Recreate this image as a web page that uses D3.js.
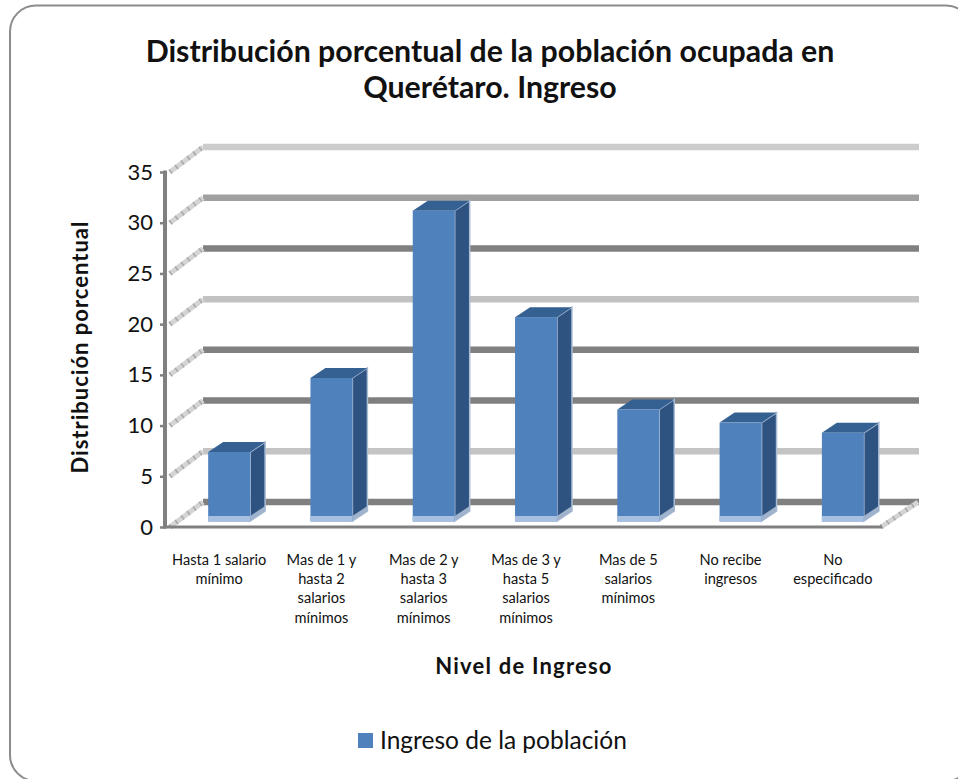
<!DOCTYPE html>
<html>
<head>
<meta charset="utf-8">
<script src="https://cdn.jsdelivr.net/npm/d3@7"></script>
<style>
    html, body { margin: 0; padding: 0; background: #fff; overflow: hidden; }
    svg { display: block; }
    text { font-family: Lato, "Open Sans", sans-serif; fill: #111; }
</style>
</head>
<body>
<div id="chart"></div>
<script>
const categories = [
    "Hasta 1 salario mínimo",
    "Mas de 1 y hasta 2 salarios mínimos",
    "Mas de 2 y hasta 3 salarios mínimos",
    "Mas de 3 y hasta 5 salarios mínimos",
    "Mas de 5 salarios mínimos",
    "No recibe ingresos",
    "No especificado"
];
const categoryLines = [
    ["Hasta 1 salario", "mínimo"],
    ["Mas de 1 y", "hasta 2", "salarios", "mínimos"],
    ["Mas de 2 y", "hasta 3", "salarios", "mínimos"],
    ["Mas de 3 y", "hasta 5", "salarios", "mínimos"],
    ["Mas de 5", "salarios", "mínimos"],
    ["No recibe", "ingresos"],
    ["No", "especificado"]
];
const values = [6.8, 14.1, 30.6, 20.1, 11.0, 9.7, 8.7];
const yTicks = [0, 5, 10, 15, 20, 25, 30, 35];
const titleLines = ["Distribución porcentual de la población ocupada en", "Querétaro. Ingreso"];
const yTitle = "Distribución porcentual";
const xTitle = "Nivel de Ingreso";
const seriesName = "Ingreso de la población";

const Config = {
    width: 958,
    height: 779,
    left: 168,
    right: 884,
    top: 172,
    bottom: 527,
    wallDx: 38,
    wallDy: -25,
    barDx: 15,
    barDy: -10,
    barShift: 10,
    barBaseY: -6,
    gridColor: {0: "#808080", 5: "#c4c4c4", 10: "#808080", 15: "#808080", 20: "#c2c2c2", 25: "#808080", 30: "#a0a0a0", 35: "#cccccc"}
};

const svg = d3.select("#chart").append("svg")
    .attr("width", Config.width)
    .attr("height", Config.height);

svg.append("defs").append("filter").attr("id", "soft")
    .append("feGaussianBlur").attr("stdDeviation", 0.6);

// chart frame
svg.append("rect")
    .attr("x", 10).attr("y", 5.5)
    .attr("width", 962).attr("height", 775.5)
    .attr("rx", 26).attr("ry", 26)
    .attr("fill", "#fff")
    .attr("stroke", "#8c8c8c")
    .attr("stroke-width", 2);

const x = d3.scaleBand()
    .domain(categories)
    .range([Config.left, Config.right])
    .paddingInner(0.59)
    .paddingOuter(0.295);

const y = d3.scaleLinear()
    .domain([0, 35])
    .range([Config.bottom, Config.top]);

const plot = svg.append("g").attr("filter", "url(#soft)");

// back wall grid lines
plot.append("g").selectAll("line")
    .data(yTicks)
    .enter().append("line")
    .attr("x1", Config.left - 3 + Config.wallDx)
    .attr("x2", Config.right + Config.wallDx - 3)
    .attr("y1", d => y(d) + Config.wallDy)
    .attr("y2", d => y(d) + Config.wallDy)
    .attr("stroke", d => Config.gridColor[d])
    .attr("stroke-width", 6.5);

// hatched side wall lines
function hatch(sel, x1, x2, y1, y2) {
    sel.append("line")
        .attr("x1", x1).attr("x2", x2)
        .attr("y1", y1).attr("y2", y2)
        .attr("stroke", "#d4d4d4")
        .attr("stroke-width", 5);
    sel.append("line")
        .attr("x1", x1).attr("x2", x2)
        .attr("y1", y1).attr("y2", y2)
        .attr("stroke", "#a8a8a8")
        .attr("stroke-width", 5)
        .attr("stroke-dasharray", "1.5 6");
}
const side = plot.append("g").selectAll("g")
    .data(yTicks)
    .enter().append("g");
hatch(side, Config.left + 2, Config.left - 3 + Config.wallDx, d => y(d), d => y(d) + Config.wallDy);

// floor edge on the right
hatch(plot.append("g"), Config.right - 3, Config.right - 4 + Config.wallDx, y(0), y(0) + Config.wallDy);

// bars
const bars = plot.append("g").selectAll("g")
    .data(categories.map((c, i) => ({name: c, value: values[i]})))
    .enter().append("g")
    .attr("transform", d => `translate(${x(d.name) + Config.barShift},${Config.barBaseY})`);

const barW = x.bandwidth();

// side face
bars.append("path")
    .attr("fill", "#2f5380")
    .attr("stroke", "#a9bcd6")
    .attr("stroke-width", 1.5)
    .attr("d", d => {
        const t = y(d.value), b = y(0);
        return `M${barW},${t}L${barW + Config.barDx},${t + Config.barDy}L${barW + Config.barDx},${b + Config.barDy}L${barW},${b}Z`;
    });
// light sliver at the bottom of the side face
bars.append("path")
    .attr("fill", "#9fb3cc")
    .attr("d", () => {
        const b = y(0);
        return `M${barW},${b}L${barW + Config.barDx},${b + Config.barDy}L${barW + Config.barDx},${b + Config.barDy - 5}L${barW},${b - 5}Z`;
    });
// top face
bars.append("path")
    .attr("fill", "#366092")
    .attr("d", d => {
        const t = y(d.value);
        return `M0,${t}L${Config.barDx},${t + Config.barDy}L${barW + Config.barDx},${t + Config.barDy}L${barW},${t}Z`;
    });
// front face
bars.append("rect")
    .attr("x", 0)
    .attr("y", d => y(d.value))
    .attr("width", barW)
    .attr("height", d => y(0) - y(d.value))
    .attr("fill", "#4f81bd");
// light strip at the bottom of the bar
bars.append("rect")
    .attr("x", 0)
    .attr("y", y(0) - 5)
    .attr("width", barW)
    .attr("height", 6)
    .attr("fill", "#a7c0e0");

// axes
const yAxis = d3.axisLeft(y)
    .tickValues(yTicks)
    .tickSize(5)
    .tickPadding(7);
const yG = svg.append("g")
    .attr("transform", `translate(${Config.left - 3},0)`)
    .call(yAxis);
yG.selectAll("path").remove();
yG.append("line")
    .attr("y1", y(35) - 1.5).attr("y2", y(0) + 1.5)
    .attr("stroke", "#808080").attr("stroke-width", 4);
yG.selectAll(".tick line").attr("stroke", "#808080").attr("stroke-width", 2.5);
yG.selectAll(".tick text").attr("font-size", 22).style("fill", "#111");

const xAxis = d3.axisBottom(x.copy().padding(0)).tickSize(0).tickFormat("");
const xG = svg.append("g")
    .attr("transform", `translate(0,${y(0)})`)
    .call(xAxis);
xG.selectAll("path").remove();
xG.append("line")
    .attr("x1", Config.left - 5).attr("x2", Config.right - 2)
    .attr("stroke", "#808080").attr("stroke-width", 3);

xG.selectAll(".tick text")
    .attr("y", null).attr("dy", null)
    .attr("font-size", 14.6)
    .style("fill", "#111")
    .each(function (d, i) {
        d3.select(this).selectAll("tspan")
            .data(categoryLines[i])
            .enter().append("tspan")
            .attr("x", 0)
            .attr("y", (l, j) => 38 + j * 19.2)
            .text(l => l);
    });

// titles
svg.append("g").selectAll("text")
    .data(titleLines)
    .enter().append("text")
    .attr("x", 490)
    .attr("y", (d, i) => 62 + i * 36)
    .attr("text-anchor", "middle")
    .attr("font-size", 30.3)
    .attr("font-weight", 700)
    .text(d => d);

svg.append("text")
    .attr("transform", "translate(88,347) rotate(-90)")
    .attr("text-anchor", "middle")
    .attr("font-size", 22)
    .attr("letter-spacing", 1)
    .attr("font-weight", 700)
    .text(yTitle);

svg.append("text")
    .attr("x", 524)
    .attr("y", 674)
    .attr("text-anchor", "middle")
    .attr("font-size", 22)
    .attr("letter-spacing", 1.2)
    .attr("font-weight", 700)
    .text(xTitle);

// legend
svg.append("rect")
    .attr("x", 358).attr("y", 733)
    .attr("width", 15).attr("height", 15)
    .attr("fill", "#4f81bd");
svg.append("text")
    .attr("x", 380).attr("y", 749)
    .attr("font-size", 24.5)
    .text(seriesName);
</script>
</body>
</html>
